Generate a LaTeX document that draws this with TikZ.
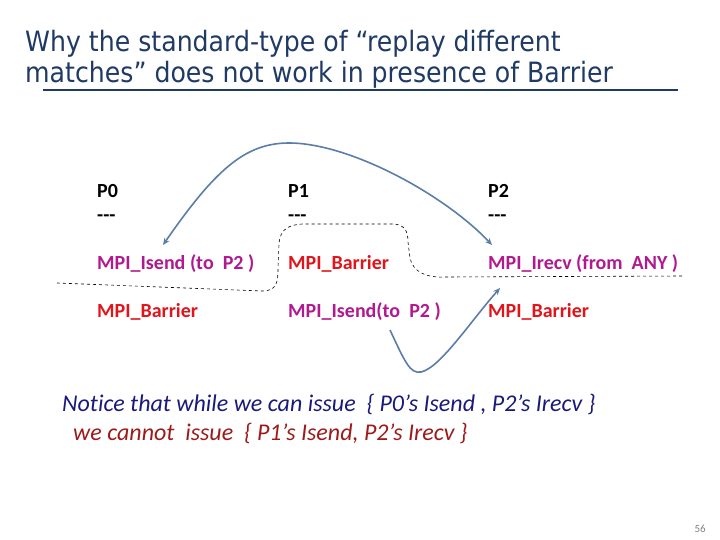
\documentclass[tikz,border=0pt]{standalone}
\usepackage{fontspec}
\usepackage{tikz}
\usetikzlibrary{arrows.meta}

\setmainfont{Carlito}[Ligatures={TeX,NoCommon}]
\newfontfamily\titlefont{DejaVu Sans Condensed}

\definecolor{titleblue}{HTML}{1F3A64}
\definecolor{callpurple}{HTML}{B0198F}
\definecolor{barred}{HTML}{E0141A}
\definecolor{arrowblue}{HTML}{5A7EA8}
\definecolor{notenavy}{HTML}{1A1A7A}
\definecolor{notered}{HTML}{9E1A1A}

\tikzset{
    proc/.style={anchor=base west, inner sep=0pt, font=\fontsize{20}{22}\selectfont\bfseries},
    call/.style={proc, text=callpurple},
    barr/.style={proc, text=barred},
    note/.style={anchor=base west, inner sep=0pt, font=\fontsize{24}{26}\selectfont\itshape},
    match/.style={arrowblue, line width=1.6pt},
}

\begin{document}
\begin{tikzpicture}[x=1pt,y=-1pt]

        \useasboundingbox (0,0) rectangle (720,540);

        % title
        \node[anchor=base west, inner sep=0pt, text=titleblue,
              font=\titlefont\fontsize{28}{30}\selectfont] (title1) at (25,52)
              {Why the standard-type of “replay different};
        \node[anchor=base west, inner sep=0pt, text=titleblue,
              font=\titlefont\fontsize{28}{30}\selectfont] (title2) at (25,83)
              {matches” does not work in presence of Barrier};
        \coordinate (ulA) at (43,90);
        \coordinate (ulB) at (678,90);
        \draw[titleblue, line width=1.2pt] (ulA) -- (ulB);

        % process columns
        \def\colA{97}
        \def\colB{288}
        \def\colC{488}

        \node[proc] (p0) at (\colA,197) {P0};
        \node[proc] (p1) at (\colB,197) {P1};
        \node[proc] (p2) at (\colC,197) {P2};
        \node[proc] (d0) at (\colA,222) {-{}-{}-};
        \node[proc] (d1) at (\colB,222) {-{}-{}-};
        \node[proc] (d2) at (\colC,222) {-{}-{}-};

        \node[call] (isend0)   at (\colA,269) {MPI\_Isend (to~ P2 )};
        \node[barr] (barrier1) at (\colB,269) {MPI\_Barrier};
        \node[call] (irecv2)   at (\colC,269) {MPI\_Irecv (from~ ANY )};

        \node[barr] (barrier0) at (\colA,317) {MPI\_Barrier};
        \node[call] (isend1)   at (\colB,317) {MPI\_Isend(to~ P2 )};
        \node[barr] (barrier2) at (\colC,317) {MPI\_Barrier};

        % cut through the barriers
        \draw[dashed, line width=0.6pt]
            (57,283) -- (262,291) .. controls (277,291) and (278,282) .. (278,268)
            -- (279,244) .. controls (280,228) and (290,225) .. (302,224)
            -- (394,224) .. controls (404,225) and (408,230) .. (408,242)
            -- (410,258) .. controls (413,272) and (426,278) .. (446,277)
            -- (683,276);

        % matches
        \coordinate (sendA) at (163,245);
        \coordinate (recvA) at (492,245);
        \draw[match, {Stealth[length=7pt,width=6pt]}-{Stealth[length=7pt,width=6pt]}]
            (sendA) .. controls (215,170) and (245,143) .. (289,143)
            .. controls (350,143) and (445,195) .. (recvA);

        \coordinate (sendB) at (390,330);
        \coordinate (recvB) at (500,288);
        \draw[match, -{Stealth[length=7pt,width=6pt]}]
            (sendB) .. controls (405,362) and (410,374) .. (421,372)
            .. controls (440,368) and (470,322) .. (recvB);

        % remark
        \node[note, text=notenavy] (rem1) at (62,411)
            {Notice that while we can issue~ \{ P0’s Isend , P2’s Irecv \}};
        \node[note, text=notered] (rem2) at (73,440)
            {we cannot~ issue~ \{ P1’s Isend, P2’s Irecv \}};

        \node[anchor=base east, inner sep=0pt, text=gray, font=\fontsize{11}{12}\selectfont] (page) at (706,532) {56};
    \end{tikzpicture}
\end{document}
